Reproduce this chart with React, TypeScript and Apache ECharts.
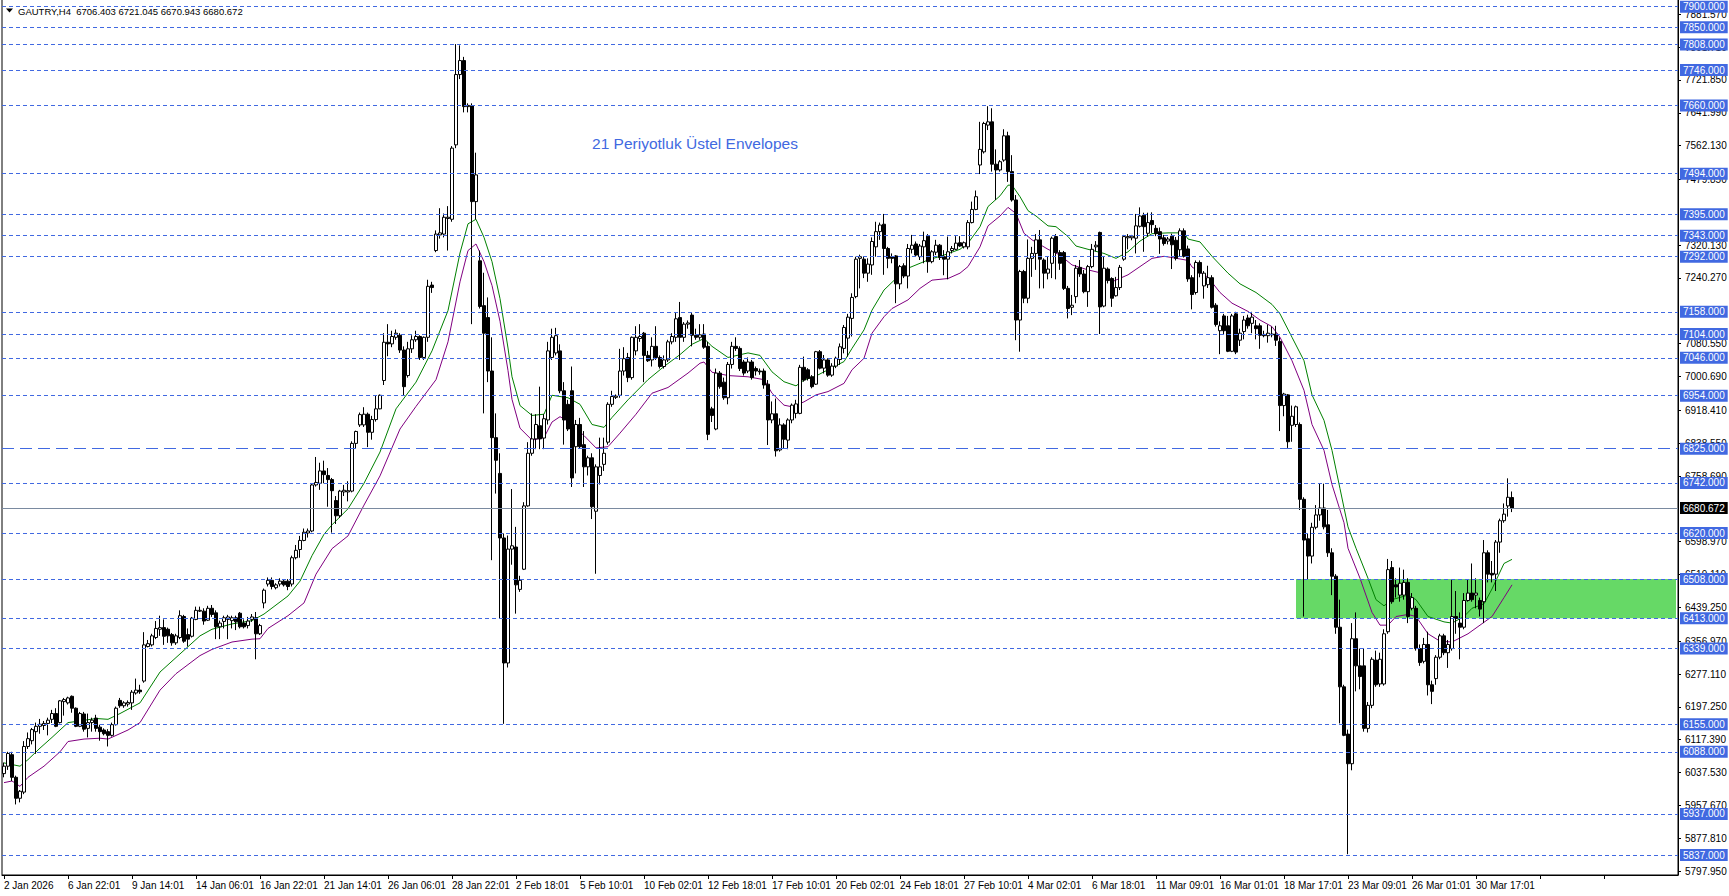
import React, { useEffect, useRef } from "react";
import * as echarts from "echarts";

// ---------- data ----------
const timeLabels = [
  "2 Jan 2026", "6 Jan 22:01", "9 Jan 14:01", "14 Jan 06:01", "16 Jan 22:01", "21 Jan 14:01",
  "26 Jan 06:01", "28 Jan 22:01", "2 Feb 18:01", "5 Feb 10:01", "10 Feb 02:01", "12 Feb 18:01",
  "17 Feb 10:01", "20 Feb 02:01", "24 Feb 18:01", "27 Feb 10:01", "4 Mar 02:01", "6 Mar 18:01",
  "11 Mar 09:01", "16 Mar 01:01", "18 Mar 17:01", "23 Mar 09:01", "26 Mar 01:01", "30 Mar 17:01",
];
const barsPerLabel = 16;
const totalSlots = 419;

const priceTicks = [
  7881.57, 7801.71, 7721.85, 7641.99, 7562.13, 7479.85, 7320.13, 7240.27, 7080.55, 7000.69,
  6918.41, 6838.55, 6758.69, 6598.97, 6519.11, 6439.25, 6356.97, 6277.11, 6197.25, 6117.39,
  6037.53, 5957.67, 5877.81, 5797.95,
];
const levelLines = [
  7900, 7850, 7808, 7746, 7660, 7494, 7395, 7343, 7292, 7158, 7104, 7046, 6954, 6742, 6620,
  6508, 6413, 6339, 6155, 6088, 5937, 5837,
];
const longDashLevel = 6825;
const currentPrice = 6680.672;
const zoneTop = 6508;
const zoneBottom = 6413;
const zoneStartBar = "323";
const zoneEndBar = "418";
const yMin = 5788.4;
const yMax = 7918.73;

// [open, high, low, close]
const candlesJan: number[][] = [
  [6035, 6062, 6026, 6053], [6053, 6088, 6044, 6084], [6081, 6088, 6017, 6026], [6026, 6030, 5960, 5975],
  [5975, 5995, 5965, 5992], [5990, 6114, 5985, 6101], [6101, 6135, 6095, 6120], [6115, 6146, 6106, 6142],
  [6137, 6159, 6083, 6150], [6150, 6168, 6132, 6155], [6152, 6163, 6141, 6157], [6157, 6171, 6128, 6165],
  [6167, 6190, 6158, 6181], [6181, 6194, 6148, 6150], [6159, 6214, 6157, 6212], [6210, 6219, 6176, 6215],
  [6207, 6222, 6203, 6219], [6223, 6225, 6183, 6194], [6194, 6196, 6148, 6150], [6150, 6185, 6148, 6181],
  [6180, 6185, 6137, 6143], [6145, 6181, 6123, 6159], [6159, 6171, 6137, 6165], [6170, 6178, 6137, 6145],
  [6148, 6154, 6115, 6137], [6141, 6145, 6128, 6132], [6137, 6143, 6101, 6128], [6128, 6159, 6125, 6154],
  [6154, 6198, 6152, 6194], [6213, 6219, 6195, 6200], [6200, 6211, 6195, 6207], [6204, 6213, 6198, 6208],
  [6207, 6238, 6190, 6233], [6231, 6266, 6227, 6238], [6238, 6251, 6229, 6234], [6260, 6379, 6256, 6348],
  [6344, 6360, 6342, 6351], [6348, 6375, 6344, 6370], [6366, 6406, 6362, 6388], [6386, 6419, 6370, 6390],
  [6390, 6410, 6348, 6369], [6386, 6390, 6353, 6370], [6373, 6377, 6346, 6353], [6353, 6375, 6348, 6370],
  [6366, 6432, 6362, 6419], [6417, 6421, 6353, 6357], [6373, 6388, 6344, 6362], [6369, 6416, 6366, 6413],
  [6410, 6441, 6408, 6432], [6430, 6441, 6428, 6432], [6430, 6437, 6397, 6406], [6408, 6443, 6406, 6437],
  [6437, 6445, 6416, 6422], [6426, 6432, 6362, 6392], [6392, 6407, 6362, 6401], [6405, 6419, 6388, 6414],
  [6410, 6421, 6362, 6416], [6407, 6419, 6388, 6414], [6414, 6419, 6384, 6404], [6425, 6428, 6388, 6392],
  [6401, 6410, 6388, 6392], [6395, 6416, 6388, 6406], [6410, 6423, 6404, 6416], [6414, 6428, 6313, 6375],
  [6375, 6399, 6372, 6395], [6450, 6485, 6437, 6481], [6496, 6512, 6490, 6505], [6505, 6512, 6483, 6490],
  [6487, 6498, 6483, 6494], [6496, 6510, 6490, 6503], [6503, 6508, 6490, 6494], [6503, 6508, 6481, 6490],
  [6496, 6565, 6490, 6560], [6560, 6591, 6556, 6578], [6580, 6613, 6560, 6602], [6602, 6631, 6600, 6622],
  [6620, 6631, 6609, 6625], [6625, 6741, 6622, 6737], [6737, 6805, 6733, 6743], [6741, 6791, 6725, 6771],
  [6771, 6796, 6741, 6762], [6760, 6778, 6684, 6750], [6750, 6754, 6621, 6723], [6699, 6710, 6642, 6662],
  [6662, 6725, 6657, 6722], [6720, 6737, 6710, 6724], [6720, 6746, 6697, 6723], [6722, 6843, 6719, 6838],
  [6838, 6869, 6825, 6867], [6883, 6913, 6878, 6908], [6883, 6926, 6878, 6909], [6909, 6913, 6829, 6865],
  [6865, 6905, 6847, 6896], [6896, 6955, 6891, 6922], [6922, 6957, 6921, 6955], [6991, 7106, 6980, 7084],
  [7084, 7128, 7050, 7080], [7080, 7112, 7072, 7098], [7096, 7115, 7090, 7106], [7101, 7106, 7058, 7065],
  [7065, 7074, 6955, 6976], [7003, 7085, 6998, 7068], [7068, 7101, 7058, 7090], [7090, 7112, 7085, 7098],
  [7098, 7101, 7041, 7047], [7047, 7098, 7041, 7096], [7096, 7236, 7085, 7220], [7223, 7231, 7204, 7217],
  [7307, 7356, 7303, 7347], [7345, 7410, 7336, 7350], [7347, 7397, 7339, 7388], [7385, 7415, 7307, 7388],
  [7383, 7561, 7377, 7556], [7564, 7809, 7556, 7735], [7735, 7806, 7724, 7769], [7769, 7778, 7643, 7657],
  [7657, 7665, 7643, 7660], [7659, 7665, 7128, 7426], [7426, 7545, 7383, 7491], [7282, 7307, 7166, 7171],
  [7173, 7253, 6911, 7106], [7144, 7193, 6987, 7014], [7014, 7096, 6554, 6852], [6852, 6911, 6716, 6797],
  [6765, 6814, 6413, 6608], [6608, 6619, 6156, 6304], [6304, 6614, 6293, 6581],
];

const candlesFeb: number[][] = [
  [6581, 6727, 6543, 6589], [6586, 6635, 6424, 6494], [6483, 6516, 6477, 6505], [6532, 6695, 6530, 6686],
  [6686, 6841, 6684, 6814], [6814, 6911, 6808, 6849], [6849, 6909, 6824, 6884], [6881, 6976, 6824, 6849],
  [6851, 6909, 6824, 6898], [6895, 7085, 6884, 7063], [7047, 7117, 7041, 7096], [7058, 7119, 7052, 7100],
  [7063, 7079, 6960, 6966], [6966, 6987, 6835, 6895], [6933, 6944, 6868, 6873], [6966, 7025, 6732, 6754],
  [6830, 6895, 6765, 6884], [6884, 6900, 6825, 6830], [6835, 6868, 6732, 6781], [6781, 6808, 6760, 6803],
  [6803, 6814, 6654, 6684], [6673, 6787, 6521, 6781], [6760, 6852, 6738, 6781], [6787, 6852, 6771, 6814],
  [6841, 6938, 6835, 6933], [6933, 6966, 6927, 6952], [6950, 6957, 6946, 6953], [6955, 7068, 6949, 7014],
  [7014, 7072, 7003, 7044], [7047, 7058, 6987, 6998], [6998, 7098, 6993, 7096], [7063, 7123, 7052, 7096],
  [7093, 7128, 7085, 7098], [7106, 7109, 6987, 7052], [7052, 7063, 7036, 7039], [7041, 7096, 7025, 7074],
  [7074, 7123, 7041, 7047], [7047, 7052, 7020, 7025], [7025, 7052, 7020, 7041], [7041, 7090, 7036, 7085],
  [7085, 7106, 7079, 7098], [7096, 7155, 7085, 7141], [7144, 7182, 7041, 7096], [7096, 7133, 7085, 7128],
  [7128, 7137, 7117, 7131], [7150, 7155, 7074, 7101], [7101, 7117, 7090, 7096], [7096, 7128, 7090, 7102],
  [7104, 7128, 7068, 7072], [7074, 7085, 6846, 6860], [6922, 6927, 6890, 6906], [6873, 7020, 6870, 7009],
  [7009, 7014, 6971, 6976], [6987, 6998, 6944, 6949], [6949, 7036, 6933, 7030], [7030, 7085, 7020, 7074],
  [7074, 7096, 7063, 7069], [7069, 7074, 7014, 7020], [7036, 7041, 7003, 7009], [7014, 7047, 7009, 7036],
  [7036, 7041, 6993, 6998], [7020, 7025, 7003, 7014], [7014, 7020, 7005, 7012], [7014, 7020, 6971, 6980],
  [6982, 6992, 6834, 6895], [6895, 6940, 6887, 6910], [6910, 6947, 6806, 6820], [6822, 6899, 6818, 6883],
  [6883, 6887, 6826, 6848], [6846, 6899, 6824, 6895], [6895, 6935, 6887, 6931], [6911, 6944, 6899, 6934],
  [6911, 7029, 6909, 7023], [7023, 7049, 6988, 6992], [7017, 7021, 6991, 6996], [7000, 7004, 6972, 6976],
  [6982, 7063, 6980, 7061], [7061, 7065, 7018, 7021], [7021, 7053, 7008, 7041], [7041, 7045, 7000, 7004],
  [7004, 7033, 7000, 7026], [7026, 7049, 7021, 7045], [7042, 7081, 7029, 7073], [7069, 7126, 7057, 7120],
  [7094, 7153, 7049, 7145], [7142, 7203, 7098, 7193], [7195, 7292, 7191, 7286], [7288, 7297, 7215, 7292],
  [7286, 7292, 7240, 7252], [7252, 7288, 7231, 7274], [7272, 7339, 7248, 7329], [7316, 7377, 7292, 7353],
  [7353, 7375, 7333, 7369], [7371, 7396, 7248, 7312], [7312, 7316, 7264, 7288], [7292, 7300, 7276, 7288],
  [7294, 7296, 7179, 7226], [7226, 7272, 7213, 7268], [7270, 7276, 7240, 7245], [7245, 7323, 7215, 7312],
  [7310, 7345, 7300, 7320], [7323, 7329, 7292, 7296], [7292, 7323, 7284, 7318], [7316, 7353, 7276, 7331],
  [7342, 7347, 7253, 7280], [7280, 7308, 7276, 7304], [7303, 7333, 7296, 7320], [7320, 7323, 7284, 7290],
  [7292, 7308, 7247, 7286], [7286, 7341, 7237, 7304], [7307, 7318, 7300, 7312], [7310, 7342, 7308, 7325],
  [7326, 7342, 7316, 7318], [7316, 7329, 7312, 7326], [7316, 7381, 7310, 7375], [7375, 7426, 7373, 7407],
  [7407, 7453, 7405, 7438], [7515, 7620, 7493, 7553], [7547, 7620, 7543, 7616], [7612, 7658, 7600, 7620],
  [7620, 7653, 7499, 7517], [7517, 7553, 7430, 7503], [7503, 7527, 7499, 7523], [7527, 7602, 7523, 7586],
  [7586, 7596, 7474, 7499], [7499, 7539, 7426, 7430],
];

const candlesMar: number[][] = [
  [7430, 7442, 7089, 7138], [7138, 7260, 7061, 7256], [7256, 7260, 7179, 7191], [7191, 7334, 7179, 7288],
  [7288, 7316, 7243, 7300], [7300, 7347, 7260, 7333], [7333, 7357, 7215, 7286], [7284, 7288, 7215, 7252],
  [7252, 7292, 7237, 7262], [7276, 7341, 7240, 7337], [7341, 7347, 7237, 7302], [7302, 7308, 7260, 7276],
  [7302, 7306, 7211, 7215], [7215, 7221, 7142, 7166], [7169, 7199, 7150, 7174], [7195, 7272, 7179, 7264],
  [7266, 7284, 7243, 7250], [7250, 7260, 7203, 7207], [7207, 7272, 7170, 7268], [7268, 7323, 7264, 7310],
  [7316, 7330, 7305, 7320], [7351, 7353, 7104, 7170], [7172, 7292, 7169, 7264], [7262, 7266, 7227, 7234],
  [7239, 7242, 7170, 7191], [7197, 7243, 7195, 7217], [7217, 7272, 7211, 7266], [7286, 7345, 7282, 7341],
  [7338, 7347, 7310, 7341], [7338, 7345, 7332, 7342], [7337, 7396, 7300, 7367], [7366, 7412, 7363, 7391],
  [7393, 7399, 7304, 7365], [7349, 7399, 7341, 7375], [7380, 7400, 7350, 7370], [7361, 7369, 7342, 7348],
  [7353, 7363, 7299, 7335], [7338, 7345, 7319, 7324], [7330, 7340, 7322, 7335], [7342, 7348, 7262, 7321],
  [7332, 7340, 7283, 7288], [7309, 7361, 7293, 7355], [7355, 7361, 7290, 7293], [7311, 7319, 7231, 7238],
  [7241, 7247, 7164, 7200], [7205, 7283, 7200, 7278], [7278, 7283, 7242, 7252], [7221, 7257, 7190, 7252],
  [7224, 7270, 7216, 7241], [7241, 7247, 7166, 7169], [7174, 7179, 7122, 7127], [7112, 7135, 7055, 7124],
  [7148, 7153, 7102, 7112], [7124, 7148, 7060, 7062], [7062, 7153, 7060, 7148], [7153, 7158, 7055, 7060],
  [7089, 7117, 7075, 7106], [7110, 7148, 7091, 7138], [7143, 7151, 7117, 7124], [7130, 7158, 7106, 7145],
  [7124, 7138, 7091, 7117], [7124, 7130, 7068, 7101], [7103, 7112, 7096, 7100], [7100, 7127, 7083, 7106],
  [7104, 7122, 7096, 7102], [7104, 7124, 7075, 7089], [7086, 7096, 6868, 6930], [6930, 6961, 6904, 6958],
  [6956, 6958, 6827, 6842], [6882, 6930, 6842, 6904], [6884, 6930, 6878, 6927], [6884, 6889, 6676, 6702],
  [6702, 6707, 6417, 6603], [6606, 6619, 6508, 6564], [6564, 6645, 6546, 6634], [6634, 6688, 6629, 6664],
  [6664, 6740, 6650, 6681], [6681, 6740, 6629, 6635], [6640, 6676, 6562, 6572], [6572, 6583, 6469, 6515],
  [6515, 6520, 6375, 6391], [6391, 6458, 6157, 6246], [6246, 6251, 6126, 6128], [6131, 6142, 5839, 6059],
  [6059, 6401, 6043, 6363], [6363, 6427, 6235, 6297], [6297, 6339, 6240, 6271], [6297, 6339, 6137, 6145],
  [6145, 6209, 6135, 6201], [6201, 6318, 6194, 6313], [6311, 6334, 6246, 6251], [6253, 6329, 6246, 6313],
  [6253, 6386, 6249, 6375], [6380, 6557, 6375, 6531], [6536, 6552, 6448, 6453], [6494, 6510, 6463, 6489],
  [6469, 6536, 6453, 6498], [6469, 6531, 6458, 6500], [6500, 6510, 6401, 6417], [6437, 6474, 6432, 6463],
  [6437, 6443, 6334, 6339], [6339, 6349, 6297, 6305], [6308, 6365, 6303, 6349], [6349, 6380, 6225, 6251],
  [6251, 6261, 6204, 6235], [6266, 6323, 6251, 6318], [6318, 6375, 6313, 6370], [6370, 6375, 6323, 6329],
  [6329, 6360, 6292, 6349], [6339, 6508, 6334, 6417], [6417, 6479, 6375, 6412], [6401, 6427, 6313, 6391],
  [6391, 6474, 6386, 6456], [6456, 6508, 6453, 6474], [6474, 6546, 6453, 6458], [6469, 6510, 6437, 6474],
  [6456, 6463, 6417, 6435], [6453, 6603, 6401, 6572], [6572, 6578, 6500, 6520], [6522, 6552, 6500, 6518],
  [6520, 6603, 6479, 6598], [6598, 6655, 6572, 6650], [6650, 6692, 6645, 6666], [6686, 6753, 6660, 6707],
  [6706.403, 6721.045, 6670.943, 6680.672],
];

// envelope lines: [bar index, value]
const envelopeUpper: number[][] = [
  [0, 6061], [4, 6053], [6, 6069], [9, 6097], [12, 6123], [16, 6159], [19, 6163], [23, 6169], [26, 6167],
  [29, 6181], [34, 6207], [39, 6282], [44, 6326], [49, 6370], [52, 6386], [57, 6399], [62, 6407], [65, 6423],
  [71, 6467], [74, 6503], [77, 6565], [80, 6617], [82, 6640], [86, 6679], [90, 6741], [94, 6817], [98, 6922],
  [103, 6987], [107, 7063], [111, 7161], [114, 7301], [116, 7372], [118, 7383], [120, 7339], [122, 7280],
  [124, 7190], [126, 7070], [127, 7000], [129, 6930], [132, 6906], [135, 6909], [137, 6955], [141, 6949],
  [144, 6933], [147, 6884], [150, 6877], [152, 6901], [156, 6944], [161, 6993], [165, 7025], [169, 7054],
  [172, 7079], [175, 7093], [177, 7074], [181, 7047], [186, 7058], [189, 7052], [192, 7012], [195, 6988],
  [198, 6978], [200, 6992], [203, 7002], [206, 7017], [210, 7037], [212, 7069], [215, 7114], [217, 7162],
  [220, 7211], [223, 7239], [226, 7264], [231, 7284], [235, 7296], [239, 7310], [241, 7325], [244, 7365],
  [246, 7414], [249, 7440], [251, 7466], [252, 7466], [254, 7438], [256, 7404], [258, 7391], [261, 7367],
  [263, 7365], [266, 7341], [268, 7318], [271, 7310], [275, 7300], [278, 7288], [281, 7304], [284, 7330],
  [287, 7348], [291, 7350], [295, 7350], [296, 7335], [299, 7328], [302, 7293], [306, 7252], [309, 7226],
  [313, 7205], [317, 7176], [319, 7153], [322, 7096], [325, 7039], [327, 6956], [330, 6894], [332, 6821],
  [334, 6728], [336, 6635], [338, 6583], [341, 6510], [343, 6458], [345, 6443], [347, 6458], [351, 6469],
  [353, 6458], [356, 6417], [360, 6404], [362, 6401], [365, 6417], [367, 6437], [370, 6448], [372, 6484],
  [375, 6546], [377, 6556],
];
const envelopeLower: number[][] = [
  [0, 6013], [2, 6017], [4, 6004], [6, 6026], [10, 6053], [14, 6088], [16, 6113], [20, 6119], [24, 6121],
  [26, 6119], [31, 6141], [34, 6159], [39, 6238], [43, 6278], [49, 6322], [52, 6337], [57, 6355], [62, 6362],
  [64, 6363], [66, 6388], [71, 6419], [75, 6450], [78, 6520], [82, 6582], [86, 6613], [90, 6688], [94, 6759],
  [99, 6873], [103, 6928], [108, 6993], [111, 7085], [114, 7231], [116, 7307], [118, 7323], [120, 7280],
  [122, 7222], [124, 7135], [126, 7015], [127, 6945], [129, 6875], [132, 6846], [135, 6852], [137, 6890],
  [139, 6903], [141, 6892], [145, 6857], [148, 6827], [151, 6830], [154, 6863], [158, 6909], [162, 6960],
  [166, 6974], [171, 7009], [174, 7033], [175, 7036], [177, 7011], [181, 7003], [186, 7000], [190, 6993],
  [192, 6960], [195, 6931], [197, 6927], [200, 6939], [203, 6956], [206, 6964], [210, 6984], [212, 7017],
  [215, 7045], [217, 7106], [220, 7146], [222, 7166], [226, 7187], [229, 7215], [232, 7235], [236, 7239],
  [239, 7252], [241, 7268], [244, 7316], [246, 7367], [249, 7391], [251, 7412], [253, 7397], [255, 7349],
  [257, 7333], [261, 7310], [264, 7296], [267, 7272], [271, 7260], [274, 7253], [277, 7231], [281, 7248],
  [284, 7268], [287, 7288], [290, 7293], [292, 7290], [296, 7283], [297, 7267], [301, 7242], [304, 7205],
  [307, 7179], [311, 7159], [314, 7138], [317, 7122], [319, 7096], [322, 7039], [325, 6967], [327, 6884],
  [330, 6821], [332, 6738], [335, 6645], [336, 6583], [339, 6510], [342, 6427], [344, 6396], [346, 6396],
  [348, 6417], [351, 6422], [353, 6417], [356, 6375], [359, 6357], [362, 6355], [366, 6375], [369, 6396],
  [372, 6417], [375, 6463], [377, 6494],
];

const titleText = "GAUTRY,H4  6706.403 6721.045 6670.943 6680.672";
const indicatorText = "21 Periyotluk Üstel Envelopes";

// ---------- chart ----------
const FONT = '"Liberation Sans", Arial, sans-serif';
const LEVEL_BLUE = "#4169E1";

function buildOption() {
  const ohlc = [...candlesJan, ...candlesFeb, ...candlesMar];
  const categories = Array.from({ length: totalSlots }, (_, i) => String(i));
  const candleData = ohlc.map(([o, h, l, c]) => [o, c, l, h]);

  const boxLabel = (text: string, bg: string) => ({
    show: true,
    position: "end",
    distance: 2,
    formatter: text,
    color: "#fff",
    backgroundColor: bg,
    padding: [1, 3, 0, 3],
    fontSize: 10,
    lineHeight: 11,
    fontFamily: FONT,
  });

  const markLineData: any[] = levelLines.map((v) => ({
    yAxis: v,
    lineStyle: { color: LEVEL_BLUE, type: [4, 3], width: 1 },
    label: boxLabel(v.toFixed(3), LEVEL_BLUE),
  }));
  markLineData.push({
    yAxis: longDashLevel,
    lineStyle: { color: LEVEL_BLUE, type: [12, 6], width: 1 },
    label: boxLabel(longDashLevel.toFixed(3), LEVEL_BLUE),
  });
  markLineData.push({
    yAxis: currentPrice,
    lineStyle: { color: "#7a8aa0", type: "solid", width: 1 },
    label: boxLabel(currentPrice.toFixed(3), "#000"),
  });

  return {
    animation: false,
    backgroundColor: "#fff",
    grid: {
      left: 2,
      right: 51,
      top: -1,
      bottom: 21,
      show: true,
      borderColor: "#000",
      borderWidth: 1,
      backgroundColor: "transparent",
      containLabel: false,
      outerBoundsMode: "none",
    },
    xAxis: {
      type: "category",
      data: categories,
      boundaryGap: true,
      axisLine: { show: true, lineStyle: { color: "#000", width: 1 } },
      axisTick: { show: true, interval: barsPerLabel - 1, alignWithLabel: true, length: 4, lineStyle: { color: "#000" } },
      axisLabel: {
        show: true,
        interval: barsPerLabel - 1,
        align: "left",
        margin: 5,
        color: "#000",
        fontSize: 10,
        fontFamily: FONT,
        showMaxLabel: false,
        hideOverlap: false,
        formatter: (_v: string, i: number) =>
          i % barsPerLabel === 0 ? timeLabels[i / barsPerLabel] ?? "" : "",
      },
      splitLine: { show: false },
    },
    yAxis: {
      type: "value",
      position: "right",
      min: yMin,
      max: yMax,
      axisLine: { show: true, lineStyle: { color: "#000", width: 1 } },
      axisTick: { show: true, length: 3, customValues: priceTicks, lineStyle: { color: "#000" } },
      axisLabel: {
        show: true,
        customValues: priceTicks,
        margin: 7,
        color: "#000",
        fontSize: 10,
        fontFamily: FONT,
        formatter: (v: number) => v.toFixed(3),
      },
      splitLine: { show: false },
    },
    graphic: [
      {
        type: "polygon",
        z: 100,
        shape: { points: [[6, 8.5], [13, 8.5], [9.5, 12.5]] },
        style: { fill: "#000" },
      },
      {
        type: "text",
        z: 100,
        x: 18,
        y: 11,
        style: { text: titleText, fill: "#000", fontSize: 9.5, fontFamily: FONT, verticalAlign: "middle" },
      },
      {
        type: "text",
        z: 100,
        x: 695,
        y: 143,
        style: {
          text: indicatorText,
          fill: LEVEL_BLUE,
          fontSize: 15.5,
          fontFamily: FONT,
          align: "center",
          verticalAlign: "middle",
        },
      },
    ],
    series: [
      {
        name: "levels",
        type: "line",
        data: categories.map(() => null),
        symbol: "none",
        silent: true,
        z: 1,
        lineStyle: { opacity: 0 },
        markArea: {
          silent: true,
          itemStyle: { color: "#66d966", opacity: 1 },
          data: [[{ xAxis: zoneStartBar, yAxis: zoneTop }, { xAxis: zoneEndBar, yAxis: zoneBottom }]],
        },
        markLine: {
          silent: true,
          symbol: ["none", "none"],
          animation: false,
          data: markLineData,
        },
      },
      {
        name: "upper",
        type: "line",
        data: envelopeUpper,
        symbol: "none",
        silent: true,
        z: 3,
        lineStyle: { color: "#008000", width: 1 },
      },
      {
        name: "lower",
        type: "line",
        data: envelopeLower,
        symbol: "none",
        silent: true,
        z: 3,
        lineStyle: { color: "#800080", width: 1 },
      },
      {
        name: "GAUTRY",
        type: "candlestick",
        data: candleData,
        barWidth: 3,
        z: 4,
        silent: true,
        itemStyle: {
          color: "#ffffff",
          color0: "#000000",
          borderColor: "#000000",
          borderColor0: "#000000",
          borderColorDoji: "#000000",
          borderWidth: 1,
        },
      },
    ],
  };
}

export default function App() {
  const ref = useRef<HTMLDivElement>(null);
  useEffect(() => {
    if (!ref.current) return;
    const chart = echarts.init(ref.current, null, { renderer: "svg" });
    chart.setOption(buildOption() as any);
    return () => chart.dispose();
  }, []);
  return (
    <div
      ref={ref}
      style={{ position: "absolute", left: 0, top: 0, width: 1729, height: 896, background: "#fff" }}
    />
  );
}
